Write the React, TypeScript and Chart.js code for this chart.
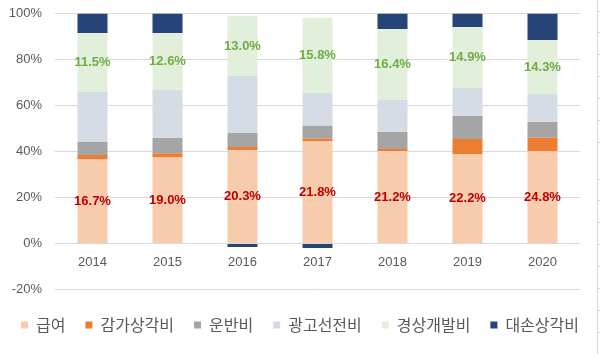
import React, { useEffect, useRef } from 'react';
import { Chart, registerables } from 'chart.js';

Chart.register(...registerables);

const categories = ['2014', '2015', '2016', '2017', '2018', '2019', '2020'];
const seriesNames = ['급여', '감가상각비', '운반비', '광고선전비', '경상개발비', '대손상각비'];
const salary = [36.7, 37.6, 40.7, 44.6, 40.2, 38.9, 40.2];
const depreciation = [1.8, 1.6, 1.3, 0.9, 0.9, 6.5, 5.8];
const freight = [5.6, 6.7, 6.0, 5.7, 7.4, 10.0, 6.8];
const advertising = [21.8, 20.8, 24.8, 14.3, 13.9, 12.2, 12.2];
const rnd = [25.6, 24.8, 26.1, 32.6, 30.9, 26.5, 23.5];
const badDebt = [8.5, 8.5, -1.5, -2.0, 6.7, 5.9, 11.5];
const salaryLabels = ['16.7%', '19.0%', '20.3%', '21.8%', '21.2%', '22.2%', '24.8%'];
const rndLabels = ['11.5%', '12.6%', '13.0%', '15.8%', '16.4%', '14.9%', '14.3%'];
const sheetRowLines = [10.7, 32.3, 54, 76.3, 98.3, 120.3, 142.3, 178.7, 200.3, 222.3, 244.3, 266.3, 288.3, 310.3, 332.3];

const colors = ['#F8CBAD', '#ED7D31', '#A5A5A5', '#D6DCE5', '#E2EFDA', '#264478'];
const seriesData = [salary, depreciation, freight, advertising, rnd, badDebt];

const labelPlugin = {
  id: 'segLabels',
  afterDatasetsDraw(chart: any) {
    const ctx = chart.ctx;
    const groups: [number, string[], string][] = [
      [0, salaryLabels, '#C00000'],
      [4, rndLabels, '#70AD47'],
    ];
    ctx.save();
    ctx.font = 'bold 13px "Liberation Sans", Arial, sans-serif';
    ctx.textAlign = 'center';
    ctx.textBaseline = 'middle';
    groups.forEach(([idx, labels, color]) => {
      const meta = chart.getDatasetMeta(idx);
      meta.data.forEach((bar: any, i: number) => {
        const cy = (bar.y + bar.base) / 2;
        ctx.fillStyle = color;
        ctx.fillText(labels[i], bar.x, cy);
      });
    });
    ctx.restore();
  },
};

const sheetPlugin = {
  id: 'sheetLines',
  afterDraw(chart: any) {
    const ctx = chart.ctx;
    ctx.save();
    ctx.strokeStyle = '#D9D9D9';
    ctx.lineWidth = 1;
    ctx.beginPath();
    ctx.moveTo(597.5, 0);
    ctx.lineTo(597.5, chart.height);
    sheetRowLines.forEach((y) => {
      ctx.moveTo(598, Math.round(y) + 0.5);
      ctx.lineTo(600, Math.round(y) + 0.5);
    });
    ctx.stroke();
    ctx.restore();
  },
};

export default function App() {
  const ref = useRef<HTMLCanvasElement>(null);
  useEffect(() => {
    if (!ref.current) return;
    const chart = new Chart(ref.current, {
      type: 'bar',
      data: {
        labels: categories,
        datasets: seriesNames.map((name, i) => ({
          label: name,
          data: seriesData[i],
          backgroundColor: colors[i],
          borderWidth: 0,
          xAxisID: 'x',
          yAxisID: 'y',
          barPercentage: 0.4,
          categoryPercentage: 1.0,
        })),
      },
      options: {
        responsive: false,
        animation: false,
        layout: { padding: { top: 13.5, right: 0, bottom: 11, left: 0 } },
        plugins: {
          tooltip: { enabled: false },
          legend: {
            position: 'bottom',
            align: 'center',
            labels: {
              boxWidth: 7,
              boxHeight: 7,
              padding: 20,
              color: '#595959',
              font: { family: '"Noto Sans CJK KR", sans-serif', size: 16 },
            },
          },
        },
        scales: {
          x: {
            stacked: true,
            position: { y: 0 } as any,
            grid: { display: false, drawTicks: false },
            border: { display: false },
            ticks: {
              color: '#595959',
              padding: 11,
              font: { family: '"Liberation Sans", Arial, sans-serif', size: 13 },
            },
          },
          spacer: {
            type: 'category',
            position: 'bottom',
            display: true,
            grid: { display: false, drawTicks: false },
            border: { display: false },
            ticks: { display: false },
            afterFit: (s: any) => {
              s.height = 7.5;
            },
          },
          y: {
            stacked: true,
            min: -20,
            max: 100,
            grid: { color: '#D9D9D9', lineWidth: 1, drawTicks: true, tickLength: 10, tickColor: 'rgba(0,0,0,0)' },
            border: { display: false },
            ticks: {
              stepSize: 20,
              color: '#595959',
              padding: 3,
              font: { family: '"Liberation Sans", Arial, sans-serif', size: 13 },
              callback: (v: any) => v + '%',
            },
            afterFit: (s: any) => {
              s.width = 55;
            },
          },
          rightSpacer: {
            type: 'linear',
            position: 'right',
            display: true,
            grid: { display: false, drawTicks: false },
            border: { display: false },
            ticks: { display: false },
            afterFit: (s: any) => {
              s.width = 20;
            },
          },
        },
      },
      plugins: [labelPlugin, sheetPlugin],
    } as any);
    return () => chart.destroy();
  }, []);
  return (
    <div style={{ position: 'fixed', left: 0, top: 0, width: 600, height: 354, background: '#fff' }}>
      <canvas ref={ref} width={600} height={354} />
    </div>
  );
}
